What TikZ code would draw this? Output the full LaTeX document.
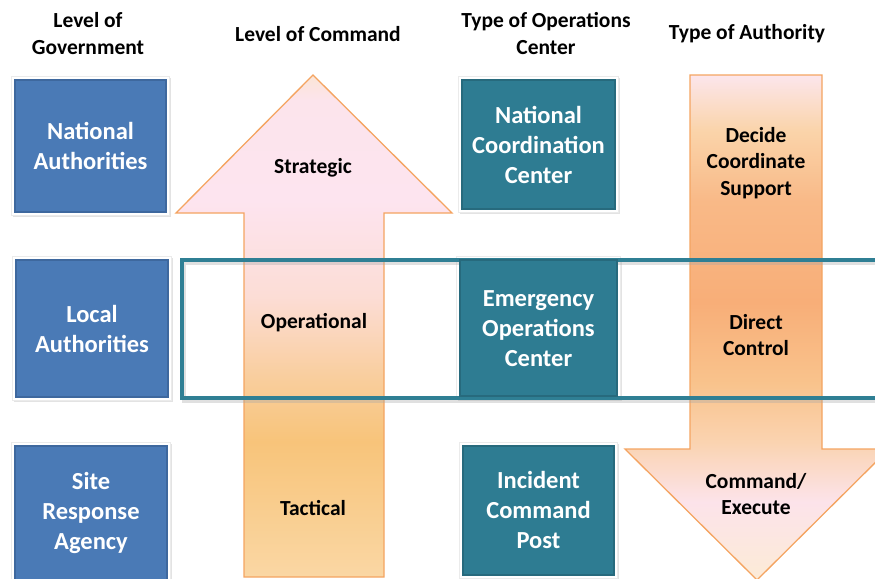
\documentclass[tikz,border=0pt]{standalone}
\usepackage{fontspec}
\setmainfont{Carlito}
\usetikzlibrary{shadows,calc}

\definecolor{govblue}{HTML}{4A7AB6}
\definecolor{govblueDark}{HTML}{3E689E}
\definecolor{opsteal}{HTML}{2E7C92}
\definecolor{opstealDark}{HTML}{276A7D}
\definecolor{arrowedge}{HTML}{F4A461}
\definecolor{bandteal}{HTML}{2F7F94}

\definecolor{ua0}{HTML}{FAD7A4}
\definecolor{ua1}{HTML}{F8C47A}
\definecolor{ua15}{HTML}{F9CE9E}
\definecolor{ua2}{HTML}{FCDDD6}
\definecolor{ua3}{HTML}{FDE4EF}
\definecolor{ua4}{HTML}{FCE4EC}
\definecolor{ua5}{HTML}{FBE5D6}

\definecolor{da0}{HTML}{FCEBD6}
\definecolor{da1}{HTML}{FCE3EA}
\definecolor{da2}{HTML}{FAD3B0}
\definecolor{da3}{HTML}{F9C38C}
\definecolor{da4}{HTML}{F8AE78}
\definecolor{da5}{HTML}{F9B987}
\definecolor{da6}{HTML}{FAD4AA}
\definecolor{da7}{HTML}{FCE6EC}

% the filled path's height maps onto 25bp..75bp of a shading
% up arrow: orange at the foot, pink at the head
\pgfdeclareverticalshading{upshade}{100bp}{%
  color(0bp)=(ua0); color(25bp)=(ua0); color(38.5bp)=(ua1); color(45bp)=(ua15);
  color(53bp)=(ua2); color(62.5bp)=(ua3); color(72.5bp)=(ua4); color(75bp)=(ua5);
  color(100bp)=(ua5)}
% down arrow: pink at the top, orange in the shaft, pink again in the head
\pgfdeclareverticalshading{downshade}{100bp}{%
  color(0bp)=(da0); color(25bp)=(da0); color(32.75bp)=(da1); color(38.7bp)=(da2);
  color(44.5bp)=(da3); color(52.5bp)=(da4); color(62.5bp)=(da5); color(69.5bp)=(da6);
  color(75bp)=(da7); color(100bp)=(da7)}

\tikzset{
  header/.style={font=\bfseries\fontsize{21.5}{27}\selectfont, align=center, text=black},
  boxlabel/.style={font=\bfseries\fontsize{24.5}{30}\selectfont, align=center, text=white},
  arrowlabel/.style={font=\bfseries\fontsize{21.5}{26.5}\selectfont, align=center, text=black},
  framebox/.style={fill=white, draw=black!8, line width=0.5pt,
    drop shadow={shadow xshift=1.5pt, shadow yshift=-1.5pt, opacity=0.22}},
  arrowshape/.style={draw=arrowedge, line width=1.3pt, line join=miter},
}

% white mount of a tile, corners (#1) and (#2)
\newcommand{\tilemount}[2]{%
  \draw[framebox] ($(#1)+(-3.5,-3.5)$) rectangle ($(#2)+(3.5,3.5)$);
}
% colored face of a tile: #1 fill, #2 dark edge, corners (#3) and (#4)
\newcommand{\tileface}[4]{%
  \fill[#1] (#3) rectangle (#4);
  \draw[#2, line width=1.2pt] (#3) rectangle (#4);
}

\begin{document}
\begin{tikzpicture}[x=1pt,y=-1pt]
\useasboundingbox (0,0) rectangle (875,578);
\clip (0,0) rectangle (875,578);

% column headings
\node[header] (hgov) at (88,33.5) {Level of\\Government};
\node[header] (hcmd) at (318,34) {Level of Command};
\node[header] (hops) at (546,33.5) {Type of Operations\\Center};
\node[header] (hauth) at (747,34) {Type of Authority};

% level of command: upward arrow
\path[arrowshape, shading=upshade]
  (313,75) -- (452,213) -- (384,213) -- (384,577) -- (244,577) -- (244,213)
  -- (176,213) -- cycle;

% type of authority: downward arrow
\path[arrowshape, shading=downshade]
  (690,75) -- (822,75) -- (822,449) -- (889,449) -- (757,580) -- (625,449)
  -- (690,449) -- cycle;

% white mounts of all tiles
\tilemount{15,80}{166,212}
\tilemount{16,260}{168,397}
\tilemount{15,446}{167,590}
\tilemount{462,80}{615,209}
\tilemount{460,260}{617,396}
\tilemount{463,446}{614,575}

% band marking the local level
\draw[black!35, line width=4pt, opacity=0.35] (184,262.5) rectangle (900,400.5);
\draw[bandteal, line width=4pt] (182,260) rectangle (900,398);

% level of government tiles
\tileface{govblue}{govblueDark}{15,80}{166,212}
\tileface{govblue}{govblueDark}{16,260}{168,397}
\tileface{govblue}{govblueDark}{15,446}{167,590}
\node[boxlabel] (nat) at (90.5,146) {National\\Authorities};
\node[boxlabel] (loc) at (92,328.5) {Local\\Authorities};
\node[boxlabel] (site) at (91,513) {Site\\Response\\Agency};

% operations center tiles
\tileface{opsteal}{opstealDark}{462,80}{615,209}
\tileface{opsteal}{opstealDark}{460,260}{617,396}
\tileface{opsteal}{opstealDark}{463,446}{614,575}
\node[boxlabel] (ncc) at (538.5,144.5) {National\\Coordination\\Center};
\node[boxlabel] (eoc) at (538.5,329) {Emergency\\Operations\\Center};
\node[boxlabel] (icp) at (538.5,510) {Incident\\Command\\Post};

% arrow texts
\node[arrowlabel] (strat) at (313,168) {Strategic};
\node[arrowlabel] (oper) at (314,323) {Operational};
\node[arrowlabel] (tact) at (313,508) {Tactical};
\node[arrowlabel] (dcs) at (756,163) {Decide\\Coordinate\\Support};
\node[arrowlabel] (dc) at (756,335) {Direct\\Control};
\node[arrowlabel] (ce) at (756,494) {Command/\\Execute};
\end{tikzpicture}
\end{document}
